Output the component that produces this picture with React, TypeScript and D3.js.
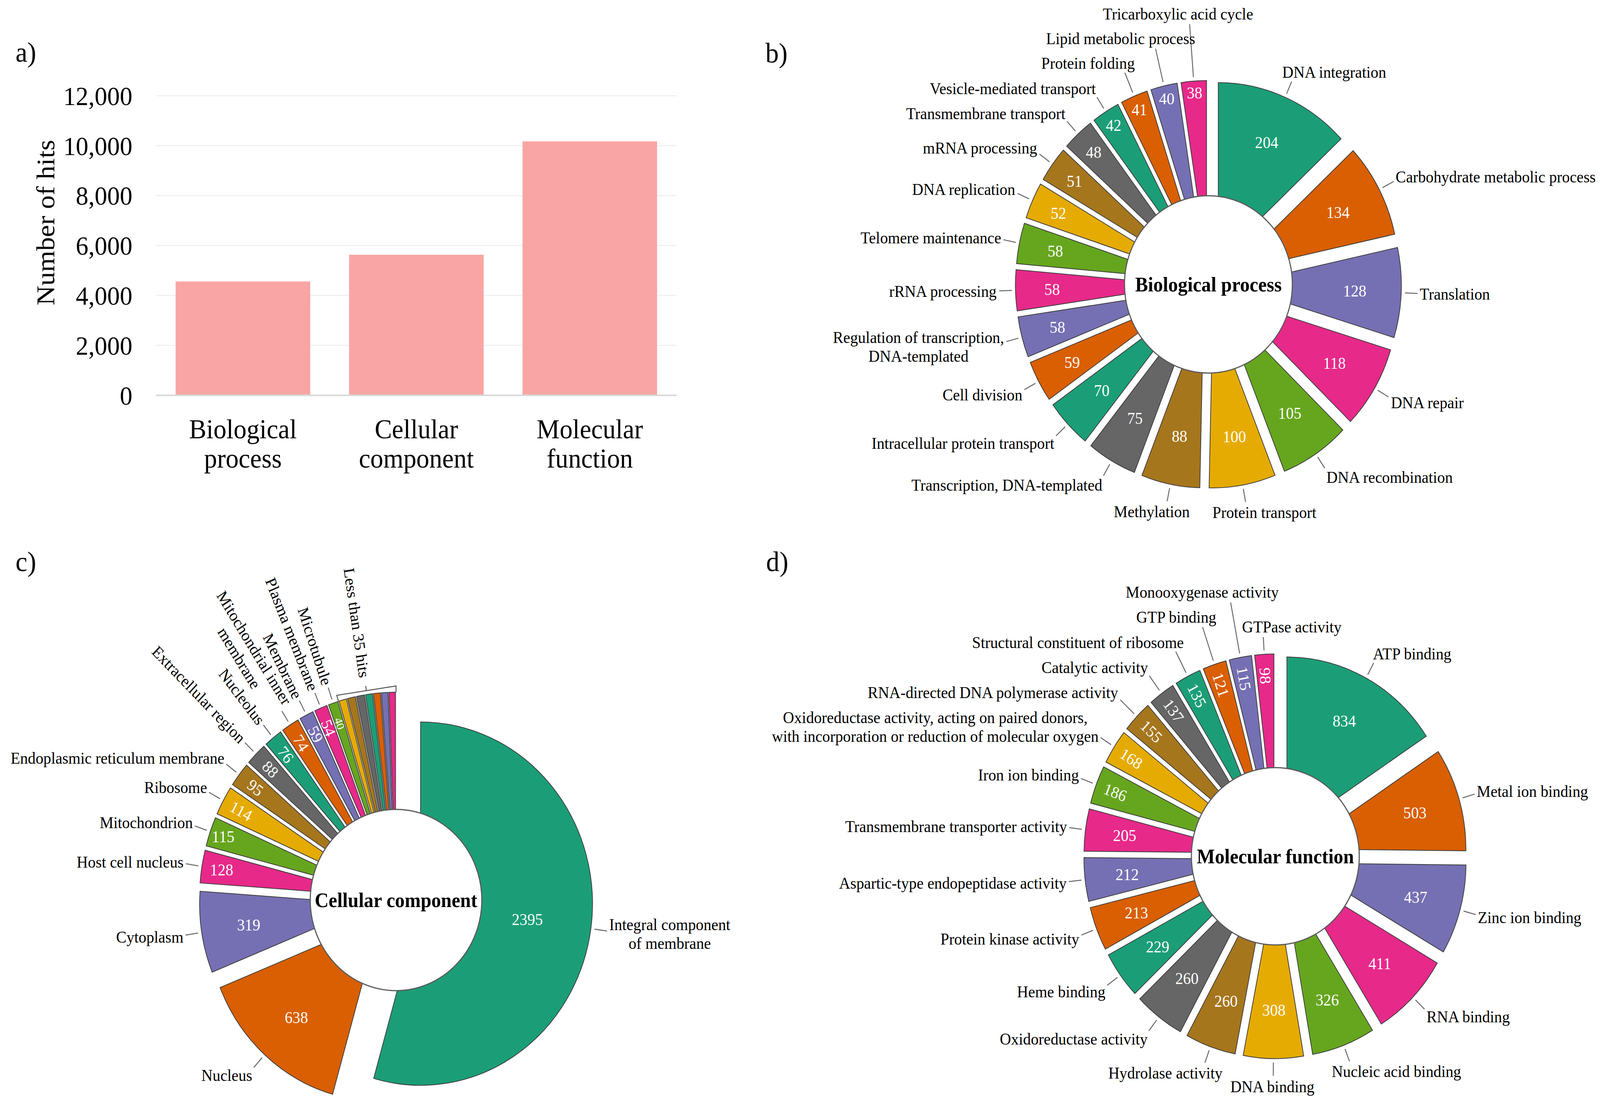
import React from 'react';
import * as d3 from 'd3';

const WIDTH = 4327;
const HEIGHT = 2821;
const SERIF = '"Liberation Serif", "Times New Roman", serif';
const dark2 = d3.schemeDark2;

// a) hits per GO category
const goCategories = ['Biological process', 'Cellular component', 'Molecular function'];
const goHits = [4560, 5630, 10170];
const hitTicks = [0, 2000, 4000, 6000, 8000, 10000, 12000];

// b) biological process
const bpTerms = [
  'DNA integration', 'Carbohydrate metabolic process', 'Translation', 'DNA repair',
  'DNA recombination', 'Protein transport', 'Methylation', 'Transcription, DNA-templated',
  'Intracellular protein transport', 'Cell division', 'Regulation of transcription,\nDNA-templated',
  'rRNA processing', 'Telomere maintenance', 'DNA replication', 'mRNA processing',
  'Transmembrane transport', 'Vesicle-mediated transport', 'Protein folding',
  'Lipid metabolic process', 'Tricarboxylic acid cycle',
];
const bpCounts = [204, 134, 128, 118, 105, 100, 88, 75, 70, 59, 58, 58, 58, 52, 51, 48, 42, 41, 40, 38];

// c) cellular component (last seven slices are the "less than 35 hits" group)
const ccTerms = [
  'Integral component\nof membrane', 'Nucleus', 'Cytoplasm', 'Host cell nucleus', 'Mitochondrion',
  'Ribosome', 'Endoplasmic reticulum membrane', 'Extracellular region', 'Nucleolus',
  'Mitochondrial inner\nmembrane', 'Membrane', 'Plasma membrane', 'Microtubule',
  '', '', '', '', '', '', '',
];
const ccCounts = [2395, 638, 319, 128, 115, 114, 95, 88, 76, 74, 59, 54, 40, 31, 33, 33, 29, 28, 27, 27];
const ccOtherLabel = 'Less than 35 hits';
const ccOtherLimit = 35;

// d) molecular function
const mfTerms = [
  'ATP binding', 'Metal ion binding', 'Zinc ion binding', 'RNA binding', 'Nucleic acid binding',
  'DNA binding', 'Hydrolase activity', 'Oxidoreductase activity', 'Heme binding',
  'Protein kinase activity', 'Aspartic-type endopeptidase activity',
  'Transmembrane transporter activity', 'Iron ion binding',
  'Oxidoreductase activity, acting on paired donors,\nwith incorporation or reduction of molecular oxygen',
  'RNA-directed DNA polymerase activity', 'Catalytic activity', 'Structural constituent of ribosome',
  'GTP binding', 'Monooxygenase activity', 'GTPase activity',
];
const mfCounts = [834, 503, 437, 411, 326, 308, 260, 260, 229, 213, 212, 205, 186, 168, 155, 137, 135, 121, 115, 98];

const panelB = { cx: 3268, cy: 728, R: 455, hole: 227, explode: 67, valueRotateMax: 0, labelRotateFrom: 999, title: 'Biological process' };
const panelC = { cx: 1071, cy: 2304, R: 465, hole: 232, explode: 67, valueRotateMax: 114, labelRotateFrom: 312, title: 'Cellular component' };
const panelD = { cx: 3449, cy: 2192, R: 452, hole: 227, explode: 66, valueRotateMax: 186, labelRotateFrom: 999, title: 'Molecular function' };

const LAB_FS = 42;
const LAB_LH = 48;
const PAD_X = 4;
const PAD_Y = 10;

let measureCtx: CanvasRenderingContext2D | null = null;
function textWidth(s: string, size: number, bold = false) {
  if (!measureCtx) measureCtx = document.createElement('canvas').getContext('2d');
  measureCtx!.font = `${bold ? 'bold ' : ''}${size}px "Liberation Serif"`;
  return measureCtx!.measureText(s).width;
}

const deg = (a: number) => (a * 180) / Math.PI;

function HitsBar() {
  const x = d3.scaleBand<string>().domain(goCategories).range([422, 1830]).paddingInner(0.224).paddingOuter(0.113);
  const y = d3.scaleLinear().domain([0, 12000]).range([1012, 245]);
  const fmt = d3.format(',');
  return (
    <g>
      {hitTicks.filter(t => t > 0).map(t => (
        <line key={t} x1={422} x2={1830} y1={y(t)} y2={y(t)} stroke="#f0f0f0" strokeWidth={3} />
      ))}
      {goCategories.map((c, i) => (
        <rect key={c} x={x(c)} y={y(goHits[i])} width={x.bandwidth()} height={y(0) - y(goHits[i])} fill="#faa5a5" />
      ))}
      <line x1={422} x2={1830} y1={y(0)} y2={y(0)} stroke="#d9d9d9" strokeWidth={4} />
      {hitTicks.map(t => (
        <text key={t} x={358} y={y(t)} dy="0.35em" textAnchor="end" fontSize={68}>{fmt(t)}</text>
      ))}
      {goCategories.map(c => c.split(' ').map((w, k) => (
        <text key={c + k} x={x(c)! + x.bandwidth() / 2} y={y(0) + 110 + k * 75} textAnchor="middle" fontSize={70}>{w}</text>
      )))}
      <text transform="translate(122,570) rotate(-90)" textAnchor="middle" dy="0.35em" fontSize={70}>Number of hits</text>
    </g>
  );
}

type Cfg = typeof panelB;

function Donut({ cfg, terms, counts, otherLabel = null, otherLimit = 0 }: { cfg: Cfg; terms: string[]; counts: number[]; otherLabel?: string | null; otherLimit?: number }) {
  const slices = d3.pie<number>().sort(null).value(v => v)(counts);
  const arcPath = d3.arc<d3.PieArcDatum<number>>().innerRadius(0).outerRadius(cfg.R);
  const outer = cfg.R + cfg.explode;
  const labelR = outer + 50;
  const at = (a: number, rad: number): [number, number] => [cfg.cx + rad * Math.sin(a), cfg.cy - rad * Math.cos(a)];
  const isOther = (i: number) => otherLabel != null && counts[i] < otherLimit;

  const labels = slices.flatMap((s, i) => {
    if (isOther(i) || !terms[i]) return [];
    const mid = (s.startAngle + s.endAngle) / 2;
    const lines = terms[i].split('\n');
    const w = Math.max(...lines.map(t => textWidth(t, LAB_FS)));
    const h = (lines.length - 1) * LAB_LH + LAB_FS;
    return [{ i, mid, lines, w, h, rotated: deg(mid) >= cfg.labelRotateFrom, rad: labelR, cx: 0, cy: 0 }];
  });

  const boxAt = (l: typeof labels[number], rad: number, shift = 0) => {
    const [px, py] = at(l.mid, rad);
    const sx = Math.max(-1, Math.min(1, 2 * Math.sin(l.mid)));
    const cx = px + (sx * l.w) / 2 + shift;
    const cy = py - (Math.cos(l.mid) * l.h) / 2;
    return { cx, cy, x0: cx - l.w / 2 - PAD_X, x1: cx + l.w / 2 + PAD_X, y0: cy - l.h / 2 - PAD_Y, y1: cy + l.h / 2 + PAD_Y };
  };
  type Box = ReturnType<typeof boxAt>;
  const overlaps = (a: Box, b: Box) => a.x0 < b.x1 && b.x0 < a.x1 && a.y0 < b.y1 && b.y0 < a.y1;
  const quad = (m: number) => Math.min(3, Math.floor(deg(m) / 90));
  const placed: Box[] = [];
  const clear = (b: Box) => !placed.some(p => overlaps(p, b));
  [0, 3, 1, 2].forEach(q => {
    labels
      .filter(l => !l.rotated && quad(l.mid) === q)
      .sort((a, b) => (q === 0 || q === 2 ? b.mid - a.mid : a.mid - b.mid))
      .forEach(l => {
        let rad = labelR;
        let b = boxAt(l, rad);
        // labels straight above/below the ring may slide sideways a little
        if (!clear(b) && Math.abs(Math.sin(l.mid)) < 0.1) {
          for (let s = 3; s <= l.w / 2; s += 3) {
            const dir = clear(boxAt(l, rad, s)) ? 1 : clear(boxAt(l, rad, -s)) ? -1 : 0;
            if (dir) {
              const roomy = boxAt(l, rad, dir * (s + 60));
              b = clear(roomy) ? roomy : boxAt(l, rad, dir * s);
              break;
            }
          }
        }
        while (!clear(b) && rad < labelR + 500) {
          rad += 3;
          b = boxAt(l, rad);
        }
        l.rad = rad;
        l.cx = b.cx;
        l.cy = b.cy;
        placed.push(b);
      });
  });

  const otherIdx = counts.map((_, i) => i).filter(isOther);
  let bracket: React.ReactNode = null;
  if (otherIdx.length) {
    const a0 = slices[otherIdx[0]].startAngle;
    const a1 = slices[otherIdx[otherIdx.length - 1]].endAngle;
    const m = (a0 + a1) / 2;
    const bR = outer + 16;
    const A = at(a0, bR), B = at(a1, bR), A2 = at(a0, bR - 16), B2 = at(a1, bR - 16);
    const M: [number, number] = [(A[0] + B[0]) / 2, (A[1] + B[1]) / 2];
    const M2: [number, number] = [M[0] + 12 * Math.sin(m), M[1] - 12 * Math.cos(m)];
    const P = at(m, bR + 28);
    bracket = (
      <g>
        <path d={`M${A2}L${A}L${B}L${B2}M${M}L${M2}`} fill="none" stroke="#555" strokeWidth={2.5} />
        <text transform={`translate(${P[0]},${P[1]}) rotate(${deg(m) - 270})`} textAnchor="end" dy="0.35em" fontSize={LAB_FS}>{otherLabel}</text>
      </g>
    );
  }

  return (
    <g>
      {slices.map((s, i) => {
        const mid = (s.startAngle + s.endAngle) / 2;
        const ox = cfg.cx + cfg.explode * Math.sin(mid);
        const oy = cfg.cy - cfg.explode * Math.cos(mid);
        return <path key={i} d={arcPath(s)!} transform={`translate(${ox},${oy})`} fill={dark2[i % 8]} stroke="#3c3c3c" strokeWidth={2} />;
      })}
      <circle cx={cfg.cx} cy={cfg.cy} r={cfg.hole} fill="#fff" stroke="#595959" strokeWidth={3} />
      <text x={cfg.cx} y={cfg.cy} dy="0.35em" textAnchor="middle" fontWeight="bold" fontSize={52}>{cfg.title}</text>
      {slices.map((s, i) => {
        if (isOther(i)) return null;
        const mid = (s.startAngle + s.endAngle) / 2;
        const span = deg(s.endAngle - s.startAngle);
        const fs = span < 4 ? 30 : 42;
        let rad: number;
        let rot = 0;
        if (counts[i] <= cfg.valueRotateMax) {
          rad = outer - 55;
          rot = deg(mid) - 270;
        } else {
          const inR = cfg.explode + (cfg.hole + cfg.R) / 2 - 12;
          const edgeR = outer - 30;
          const t = Math.max(0, Math.min(1, (15 - span) / 6));
          rad = inR + (edgeR - inR) * t - (span > 120 ? 45 : 0);
        }
        const [x, y] = at(mid, rad);
        return (
          <text key={i} transform={`translate(${x},${y}) rotate(${rot})`} textAnchor="middle" dy="0.35em" fill="#fff" fontSize={fs}>{counts[i]}</text>
        );
      })}
      {labels.map(l => {
        const end = l.rotated ? labelR - 8 : l.rad - 6;
        if (end - (outer + 10) < 8) return null;
        const [x1, y1] = at(l.mid, outer + 10);
        const [x2, y2] = at(l.mid, end);
        return <line key={'ld' + l.i} x1={x1} y1={y1} x2={x2} y2={y2} stroke="#666" strokeWidth={2.5} />;
      })}
      {labels.map(l => {
        if (l.rotated) {
          const [px, py] = at(l.mid, labelR);
          return (
            <g key={'lb' + l.i} transform={`translate(${px},${py}) rotate(${deg(l.mid) - 270})`}>
              {l.lines.map((t, k) => (
                <text key={k} x={-l.w / 2} y={(k - (l.lines.length - 1) / 2) * LAB_LH} dy="0.35em" textAnchor="middle" fontSize={LAB_FS}>{t}</text>
              ))}
            </g>
          );
        }
        return (
          <g key={'lb' + l.i}>
            {l.lines.map((t, k) => (
              <text key={k} x={l.cx} y={l.cy - l.h / 2 + LAB_FS / 2 + k * LAB_LH} dy="0.35em" textAnchor="middle" fontSize={LAB_FS}>{t}</text>
            ))}
          </g>
        );
      })}
      {bracket}
    </g>
  );
}

export default function App() {
  return (
    <svg
      viewBox={`0 0 ${WIDTH} ${HEIGHT}`}
      preserveAspectRatio="none"
      style={{ position: 'fixed', left: 0, top: 0, width: '100vw', height: '100vh', display: 'block', background: '#fff' }}
      fontFamily={SERIF}
    >
      <rect width={WIDTH} height={HEIGHT} fill="#fff" />
      <text x={42} y={158} fontSize={72}>a)</text>
      <text x={2070} y={160} fontSize={72}>b)</text>
      <text x={42} y={1462} fontSize={72}>c)</text>
      <text x={2072} y={1462} fontSize={72}>d)</text>
      <HitsBar />
      <Donut cfg={panelB} terms={bpTerms} counts={bpCounts} />
      <Donut cfg={panelC} terms={ccTerms} counts={ccCounts} otherLabel={ccOtherLabel} otherLimit={ccOtherLimit} />
      <Donut cfg={panelD} terms={mfTerms} counts={mfCounts} />
    </svg>
  );
}
